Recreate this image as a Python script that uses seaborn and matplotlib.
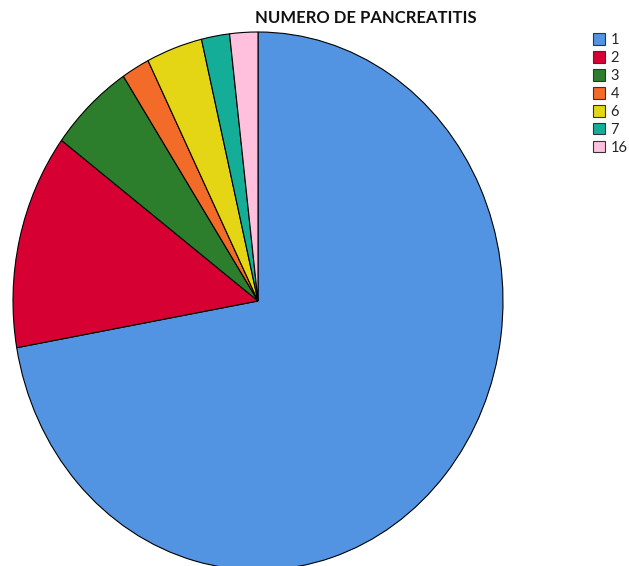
import seaborn as sns
import matplotlib.pyplot as plt

# numero de pancreatitis -> frecuencia
labels = ['1', '2', '3', '4', '6', '7', '16']
counts = [39, 7, 3, 1, 2, 1, 1]
colors = ['#5294E2', '#D60032', '#2C7E2C', '#F26B28', '#E4D614', '#14AE98', '#FFC0DE']

sns.set_theme(style='white')
plt.rcParams['font.family'] = ['Lato', 'DejaVu Sans']

fig = plt.figure(figsize=(6.29, 5.66), dpi=100)
# SPSS draws the pie a bit stretched vertically
ax = fig.add_axes([13 / 629, -4 / 566, 490 / 629, 538 / 566])

wedges, _ = ax.pie(counts, colors=colors, startangle=90, counterclock=False,
                   wedgeprops=dict(edgecolor='black', linewidth=0.8))
ax.set_aspect('auto')
ax.set_xlim(-1, 1)
ax.set_ylim(-1, 1)
ax.axis('off')

fig.text(366 / 629, 1 - 18 / 566, 'NUMERO DE PANCREATITIS', ha='center', va='center',
         fontsize=12, fontweight='bold', color='#111111')

leg = fig.legend(wedges, labels, loc='upper left', bbox_to_anchor=(593 / 629, 1 - 33 / 566),
                 frameon=False, fontsize=10.5, handlelength=0.85, handleheight=0.85,
                 labelspacing=0.27, handletextpad=0.35, borderpad=0, borderaxespad=0)
for h in leg.legend_handles:
    h.set_edgecolor('#333333')
    h.set_linewidth(0.8)

fig.savefig('out.png', dpi=100)
